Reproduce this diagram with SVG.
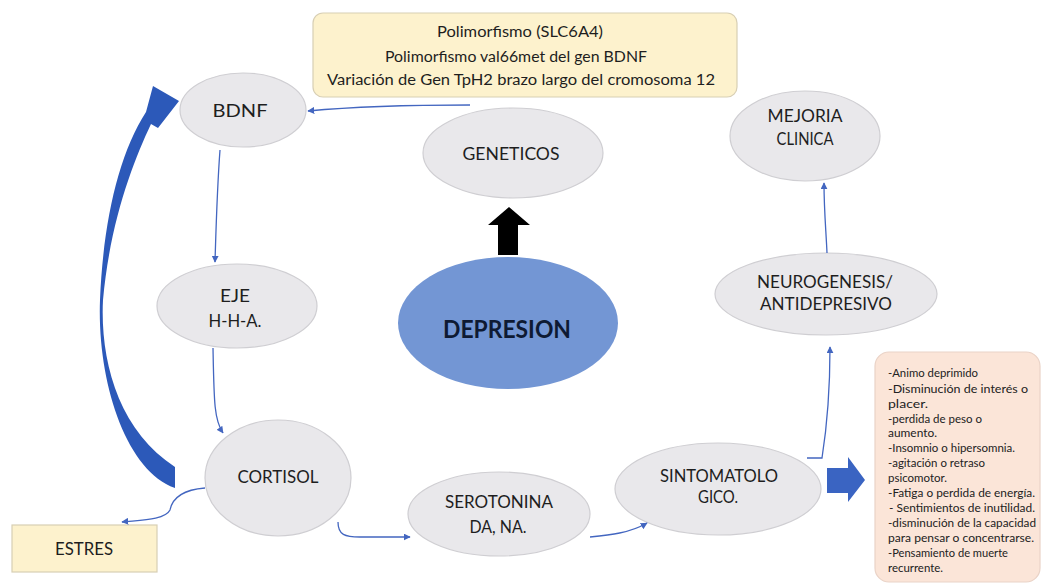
<svg xmlns="http://www.w3.org/2000/svg" width="1042" height="586" viewBox="0 0 1042 586">
<defs>
<marker id="ah" viewBox="0 0 10 10" refX="9" refY="5" markerWidth="7" markerHeight="7" markerUnits="userSpaceOnUse" orient="auto"><path d="M0,0 L10,5 L0,10 Z" fill="#4366c0"/></marker>
</defs>
<style>
.node{fill:#e9e8eb;stroke:#cfced2;stroke-width:1.2}
.lbl{font-family:Lato,"Liberation Sans",sans-serif;font-size:18px;fill:#1e1e1e;text-anchor:middle}
.box{font-family:Lato,"Liberation Sans",sans-serif;font-size:15.5px;fill:#1e1e1e;text-anchor:middle}
.sym{font-family:Lato,"Liberation Sans",sans-serif;font-size:10.5px;fill:#222222}
.con{fill:none;stroke:#4366c0;stroke-width:1.3;marker-end:url(#ah)}
</style>
<rect width="1042" height="586" fill="#ffffff"/>

<g id="geneticsBox">
<rect x="313" y="13" width="424" height="84" rx="10" fill="#fdf2cd" stroke="#d8cfb4" stroke-width="1.2"/>
<text class="box" x="520" y="37" textLength="166" lengthAdjust="spacingAndGlyphs">Polimorfismo  (SLC6A4)</text>
<text class="box" x="516" y="62" textLength="262" lengthAdjust="spacingAndGlyphs">Polimorfismo val66met del gen BDNF</text>
<text class="box" x="521" y="85" textLength="388" lengthAdjust="spacingAndGlyphs">Variación de Gen TpH2 brazo largo del cromosoma 12</text>
</g>

<g id="bdnf">
<ellipse class="node" cx="243" cy="110" rx="63" ry="37"/>
<text class="lbl" x="240" y="117" textLength="55" lengthAdjust="spacingAndGlyphs">BDNF</text>
</g>

<g id="geneticos">
<ellipse class="node" cx="513" cy="153" rx="90" ry="45"/>
<text class="lbl" x="511" y="160" textLength="97" lengthAdjust="spacingAndGlyphs">GENETICOS</text>
</g>

<g id="eje">
<ellipse class="node" cx="237" cy="306" rx="80" ry="42"/>
<text class="lbl" x="235" y="302" textLength="30" lengthAdjust="spacingAndGlyphs">EJE</text>
<text class="lbl" x="235" y="327" textLength="53" lengthAdjust="spacingAndGlyphs">H-H-A.</text>
</g>

<g id="depresion">
<ellipse cx="508" cy="323" rx="110" ry="66" fill="#7396d4"/>
<text x="507" y="338" font-family="Lato,'Liberation Sans',sans-serif" font-weight="bold" font-size="24" fill="#0e1a33" text-anchor="middle" textLength="128" lengthAdjust="spacingAndGlyphs">DEPRESION</text>
</g>

<g id="upArrow">
<polygon points="498,255 518,255 518,225 530,225 509,207 488,225 498,225" fill="#000000"/>
</g>

<g id="cortisol">
<ellipse class="node" cx="278" cy="478" rx="73" ry="58"/>
<text class="lbl" x="278" y="483" textLength="81" lengthAdjust="spacingAndGlyphs">CORTISOL</text>
</g>

<g id="estres">
<rect x="12" y="525" width="145" height="47" fill="#fdf2cd" stroke="#d8cfb4" stroke-width="1.2"/>
<text class="lbl" x="84" y="555" textLength="58" lengthAdjust="spacingAndGlyphs">ESTRES</text>
</g>

<g id="serotonina">
<ellipse class="node" cx="499" cy="514" rx="91" ry="42"/>
<text class="lbl" x="499" y="508" textLength="108" lengthAdjust="spacingAndGlyphs">SEROTONINA</text>
<text class="lbl" x="498" y="533" textLength="57" lengthAdjust="spacingAndGlyphs">DA, NA.</text>
</g>

<g id="sintomatologico">
<ellipse class="node" cx="718" cy="489" rx="103" ry="46"/>
<text class="lbl" x="719" y="482" textLength="118" lengthAdjust="spacingAndGlyphs">SINTOMATOLO</text>
<text class="lbl" x="718" y="503" textLength="40" lengthAdjust="spacingAndGlyphs">GICO.</text>
</g>

<g id="neurogenesis">
<ellipse class="node" cx="826" cy="294" rx="111" ry="41"/>
<text class="lbl" x="825" y="288" textLength="136" lengthAdjust="spacingAndGlyphs">NEUROGENESIS/</text>
<text class="lbl" x="826" y="310" textLength="132" lengthAdjust="spacingAndGlyphs">ANTIDEPRESIVO</text>
</g>

<g id="mejoria">
<ellipse class="node" cx="805" cy="136" rx="75" ry="45"/>
<text class="lbl" x="805" y="122" textLength="75" lengthAdjust="spacingAndGlyphs">MEJORIA</text>
<text class="lbl" x="805" y="145" textLength="57" lengthAdjust="spacingAndGlyphs">CLINICA</text>
</g>

<g id="sintomas">
<rect x="875" y="352" width="165" height="230" rx="14" fill="#fbe5d8" stroke="#ead3c7" stroke-width="1.2"/>
<text class="sym" x="888" y="377" textLength="90" lengthAdjust="spacingAndGlyphs">-Animo deprimido</text>
<text class="sym" x="888" y="393" textLength="140" lengthAdjust="spacingAndGlyphs">-Disminución de interés o</text>
<text class="sym" x="888" y="408" textLength="40" lengthAdjust="spacingAndGlyphs">placer.</text>
<text class="sym" x="888" y="423" textLength="94" lengthAdjust="spacingAndGlyphs">-perdida de peso  o</text>
<text class="sym" x="888" y="437" textLength="49" lengthAdjust="spacingAndGlyphs">aumento.</text>
<text class="sym" x="888" y="452" textLength="127" lengthAdjust="spacingAndGlyphs">-Insomnio o hipersomnia.</text>
<text class="sym" x="888" y="467" textLength="97" lengthAdjust="spacingAndGlyphs">-agitación o retraso</text>
<text class="sym" x="888" y="482" textLength="59" lengthAdjust="spacingAndGlyphs">psicomotor.</text>
<text class="sym" x="888" y="497" textLength="147" lengthAdjust="spacingAndGlyphs">-Fatiga o perdida de energía.</text>
<text class="sym" x="889" y="512" textLength="146" lengthAdjust="spacingAndGlyphs">- Sentimientos de inutilidad.</text>
<text class="sym" x="888" y="527" textLength="148" lengthAdjust="spacingAndGlyphs">-disminución de la capacidad</text>
<text class="sym" x="888" y="542" textLength="146" lengthAdjust="spacingAndGlyphs">para pensar o concentrarse.</text>
<text class="sym" x="888" y="557" textLength="120" lengthAdjust="spacingAndGlyphs">-Pensamiento de muerte</text>
<text class="sym" x="888" y="572" textLength="55" lengthAdjust="spacingAndGlyphs">recurrente.</text>
</g>

<g id="connectors">
<path class="con" d="M470,105 C400,105 340,108 308,111"/>
<path class="con" d="M220,150 C217,190 216,230 215,262"/>
<path class="con" d="M213,348 C214,400 214,420 223,433"/>
<path class="con" d="M205,488 C180,490 172,500 170,510 C165,520 140,520 122,522"/>
<path class="con" d="M338,522 C338,535 345,537 360,537 L410,537"/>
<path class="con" d="M590,537 C610,535 630,533 647,523"/>
<path class="con" d="M807,458 L822,458 C828,420 830,380 830,347"/>
<path class="con" d="M827,253 C826,230 824,210 824,183"/>
<path d="M175,488 C125,470 97,380 100,300 C103,225 118,155 146,112 L153,86 L179,101 L158,128 L151,124 C133,162 110,222 103,300 C100,360 118,430 175,467 Z" fill="#2c59b9"/>
<polygon points="827,468 848,468 848,457 865,480 848,502 848,493 827,493" fill="#3a64c2"/>
</g>
</svg>
